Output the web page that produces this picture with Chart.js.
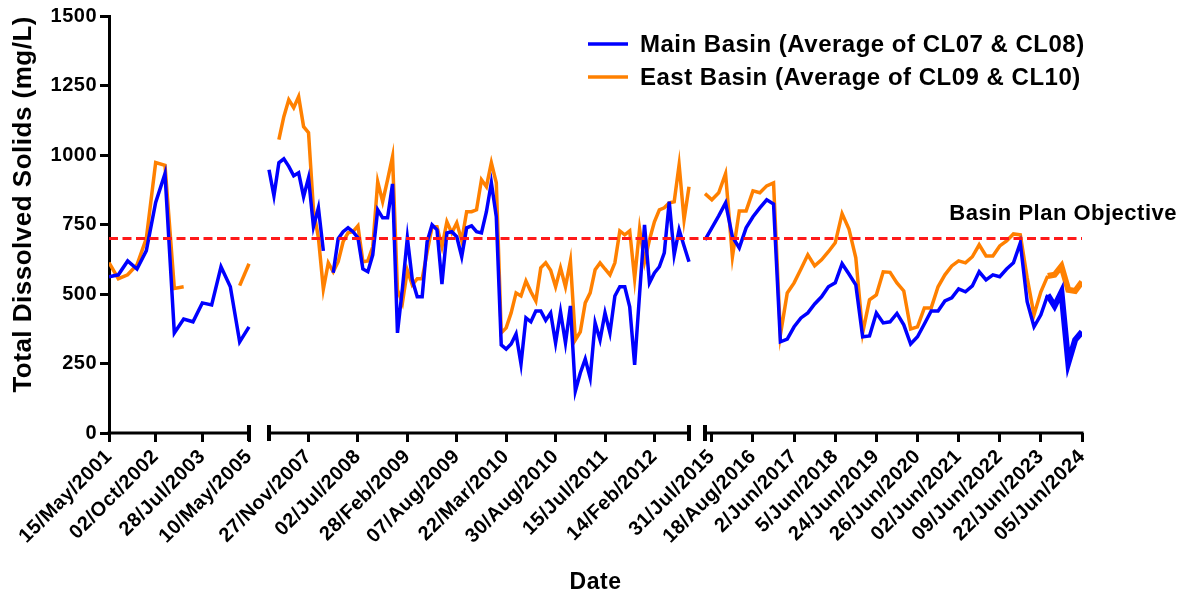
<!DOCTYPE html>
<html>
<head>
<meta charset="utf-8">
<script src="https://cdn.jsdelivr.net/npm/chart.js@4.4.1/dist/chart.umd.min.js"></script>
<style>
  html, body { margin: 0; padding: 0; background: #fff; }
</style>
</head>
<body>
<canvas id="tds" width="1185" height="599" style="display:block;width:1185px;height:599px"></canvas>
<script>
// TDS samples (mg/L), one array per x axis segment
var seg1Main = [562, 569, 619, 590, 656, 829, 933, 360, 410, 400, 468, 461, 598, 526, 328, 382];
var seg1East = [613, 555, 569, 605, 700, 973, 963, 520, 526, null, null, null, null, null, 530, 609];

var seg2Main = [947, 853, 972, 986, 959, 925, 936, 850, 918, 742,
  810, 655, null, 576, 699, 724, 738, 724, 702, 590,
  580, 641, 803, 774, 774, 896, 360, 520, 702, 551,
  490, 490, 688, 749, 731, 536, 720, 724, 706, 634,
  738, 745, 724, 720, 796, 900, 778, 317, 302, 320,
  356, 248, 414, 400, 439, 439, 405, 432, 324, 436,
  324, 457, 151, 216, 266, 198, 396, 335, 432, 360,
  493, 526, 526, 454, 245, 500, 749, 540, 576, 598,
  648, 832, 641, 731, 673, 616];
var seg2East = [1150, null, 1055, 1138, 1199, 1170, 1210, 1102, 1080, 803,
  702, 518, 612, 580, 616, 688, 720, 724, 745, 616,
  619, 670, 904, 832, 911, 994, 515, 468, 585, 533,
  555, 555, 650, 742, 742, 670, 760, 720, 756, 692,
  796, 796, 803, 911, 886, 972, 900, 360, 378, 432,
  504, 493, 547, 508, 475, 594, 612, 585, 526, 594,
  526, 619, 335, 364, 468, 504, 587, 612, 590, 569,
  612, 727, 713, 727, 555, 734, 616, 695, 760, 803,
  810, 828, 832, 965, 767, 886];

var seg3Main = [695, 738, 781, 828, 706, 666, 738, 778, 810, 839,
  824, 328, 338, 382, 414, 432, 464, 490, 526, 540,
  609, 572, 533, 346, 349, 432, 396, 400, 430, 389,
  320, 346, 392, 439, 439, 475, 486, 518, 508, 529,
  580, 551, 569, 562, 590, 612, 684, 472, 382, 425,
  497, 457, 507, 252, 335, 364];
var seg3East = [861, 839, 864, 933, 634, 799, 799, 871, 864, 889,
  900, 353, 504, 540, 590, 641, 601, 623, 652, 684,
  789, 734, 630, 360, 479, 497, 580, 578, 540, 511,
  374, 382, 450, 450, 526, 569, 601, 619, 612, 634,
  677, 637, 637, 673, 691, 716, 713, 558, 425, 508,
  565, 569, 600, 515, 511, 544];

// sample index of each labelled tick, and its date
var seg1TickIdx = [0, 5, 10, 15];
var seg1TickLabels = ['15/May/2001', '02/Oct/2002', '28/Jul/2003', '10/May/2005'];
var seg2TickIdx = [8, 18, 28, 38, 48, 58, 68, 78];
var seg2TickLabels = ['27/Nov/2007', '02/Jul/2008', '28/Feb/2009', '07/Aug/2009',
  '22/Mar/2010', '30/Aug/2010', '15/Jul/2011', '14/Feb/2012'];
var seg3TickIdx = [1, 7, 13, 19, 25, 31, 37, 43, 49, 55];
var seg3TickLabels = ['31/Jul/2015', '18/Aug/2016', '2/Jun/2017', '5/Jun/2018', '24/Jun/2019',
  '26/Jun/2020', '02/Jun/2021', '09/Jun/2022', '22/Jun/2023', '05/Jun/2024'];

var yTicks = [0, 250, 500, 750, 1000, 1250, 1500];
var objective = 700;
var objectiveLabel = 'Basin Plan Objective';

// where each axis segment sits on the x scale (axis units)
var segLayout = [{from: 0, to: 140}, {from: 160, to: 580}, {from: 596, to: 973}];
var thickFrom = 50;   // the last samples are drawn heavier in the original
var FONT = "'Liberation Sans', Arial, sans-serif";
var SPACING = '0.5px';

var segMain = [seg1Main, seg2Main, seg3Main];
var segEast = [seg1East, seg2East, seg3East];
var segTickIdx = [seg1TickIdx, seg2TickIdx, seg3TickIdx];
var segTickLabels = [seg1TickLabels, seg2TickLabels, seg3TickLabels];

function xOf(s, i) {
  var n = segMain[s].length;
  return segLayout[s].from + i * (segLayout[s].to - segLayout[s].from) / (n - 1);
}

function points(list) {
  var out = [];
  list.forEach(function (vals, s) {
    if (s > 0) out.push({x: (segLayout[s - 1].to + segLayout[s].from) / 2, y: null});
    vals.forEach(function (v, i) { out.push({x: xOf(s, i), y: v}); });
  });
  return out;
}

var tickValues = [], tickLabels = [];
segTickIdx.forEach(function (idx, s) {
  idx.forEach(function (i, k) {
    tickValues.push(xOf(s, i));
    tickLabels.push(segTickLabels[s][k]);
  });
});

var xMax = segLayout[segLayout.length - 1].to;
var xThick = xOf(2, thickFrom) - 0.01;
function thickSeg(c) { return c.p0.parsed.x >= xThick ? 6 : undefined; }

Chart.defaults.font.family = FONT;
Chart.defaults.font.weight = 'bold';
Chart.defaults.color = '#000';

// the original lettering is a touch looser than Arial
var spacing = {
  id: 'spacing',
  beforeUpdate: function (chart) { chart.ctx.letterSpacing = SPACING; },
  beforeDraw: function (chart) { chart.ctx.letterSpacing = SPACING; }
};

// broken x axis, legend and objective label
var extras = {
  id: 'extras',
  afterDraw: function (chart) {
    var ctx = chart.ctx, xs = chart.scales.x, ys = chart.scales.y, area = chart.chartArea;
    var y0 = area.bottom;
    ctx.save();
    ctx.strokeStyle = '#000';
    ctx.lineCap = 'butt';
    function cap(px) {
      ctx.lineWidth = 4;
      ctx.beginPath(); ctx.moveTo(px, y0 - 8); ctx.lineTo(px, y0 + 8); ctx.stroke();
    }
    segLayout.forEach(function (seg, s) {
      var a = xs.getPixelForValue(seg.from), b = xs.getPixelForValue(seg.to);
      ctx.lineWidth = 3;
      ctx.beginPath(); ctx.moveTo(s === 0 ? a - 1.5 : a, y0); ctx.lineTo(b + 1.5, y0); ctx.stroke();
      if (s > 0) cap(a);
      if (s < segLayout.length - 1) cap(b);
    });

    ctx.fillStyle = '#000';
    ctx.font = 'bold 22px ' + FONT;
    ctx.textAlign = 'right';
    ctx.textBaseline = 'alphabetic';
    ctx.fillText(objectiveLabel, area.right + 95, ys.getPixelForValue(objective) - 18);

    ctx.font = 'bold 24px ' + FONT;
    ctx.textAlign = 'left';
    ctx.textBaseline = 'middle';
    [0, 1].forEach(function (d, k) {
      var ds = chart.data.datasets[d];
      var ly = area.top + 28 + k * 33;
      ctx.strokeStyle = ds.borderColor;
      ctx.lineWidth = 3.5;
      ctx.beginPath(); ctx.moveTo(588, ly); ctx.lineTo(628, ly); ctx.stroke();
      ctx.fillText(ds.label, 640, ly + 1);
    });
    ctx.restore();
  }
};

new Chart(document.getElementById('tds'), {
  type: 'line',
  data: {
    datasets: [{
      label: 'Main Basin (Average of CL07 & CL08)',
      data: points(segMain),
      borderColor: '#0000ff',
      borderWidth: 3.5,
      pointRadius: 0,
      spanGaps: false,
      segment: {borderWidth: thickSeg}
    }, {
      label: 'East Basin (Average of CL09 & CL10)',
      data: points(segEast),
      borderColor: '#ff8000',
      borderWidth: 3.5,
      pointRadius: 0,
      spanGaps: false,
      segment: {borderWidth: thickSeg}
    }, {
      label: objectiveLabel,
      data: [{x: 0, y: objective}, {x: xMax, y: objective}],
      borderColor: '#ff1a1a',
      borderWidth: 3,
      borderDash: [9, 4.5],
      pointRadius: 0,
      order: -1
    }]
  },
  options: {
    responsive: false,
    devicePixelRatio: 1,
    animation: false,
    layout: {padding: {top: 16, right: 103, bottom: 0, left: 0}},
    plugins: {legend: {display: false}, tooltip: {enabled: false}},
    scales: {
      x: {
        type: 'linear',
        min: 0,
        max: xMax,
        afterBuildTicks: function (scale) {
          scale.ticks = tickValues.map(function (v) { return {value: v}; });
        },
        afterFit: function (scale) { scale.height = 166; },
        ticks: {
          autoSkip: false,
          minRotation: 45,
          maxRotation: 45,
          padding: 3,
          font: {size: 20, weight: 'bold'},
          callback: function (v, i) { return tickLabels[i]; }
        },
        grid: {drawOnChartArea: false, tickLength: 9, lineWidth: 3, color: '#000'},
        border: {display: false},
        title: {display: true, text: 'Date', font: {size: 23, weight: 'bold'}, padding: {top: 0, bottom: 3}}
      },
      y: {
        min: 0,
        max: 1500,
        afterBuildTicks: function (scale) {
          scale.ticks = yTicks.map(function (v) { return {value: v}; });
        },
        afterFit: function (scale) { scale.width = 109; },
        ticks: {padding: 3, font: {size: 20, weight: 'bold'}, callback: function (v) { return String(v); }},
        grid: {drawOnChartArea: false, tickLength: 9, lineWidth: 3, color: '#000'},
        border: {display: true, width: 3, color: '#000'},
        title: {
          display: true,
          text: 'Total Dissolved Solids (mg/L)',
          align: 'end',
          font: {size: 26, weight: 'bold'},
          padding: {top: 8, bottom: 0}
        }
      }
    }
  },
  plugins: [spacing, extras]
});
</script>
</body>
</html>
